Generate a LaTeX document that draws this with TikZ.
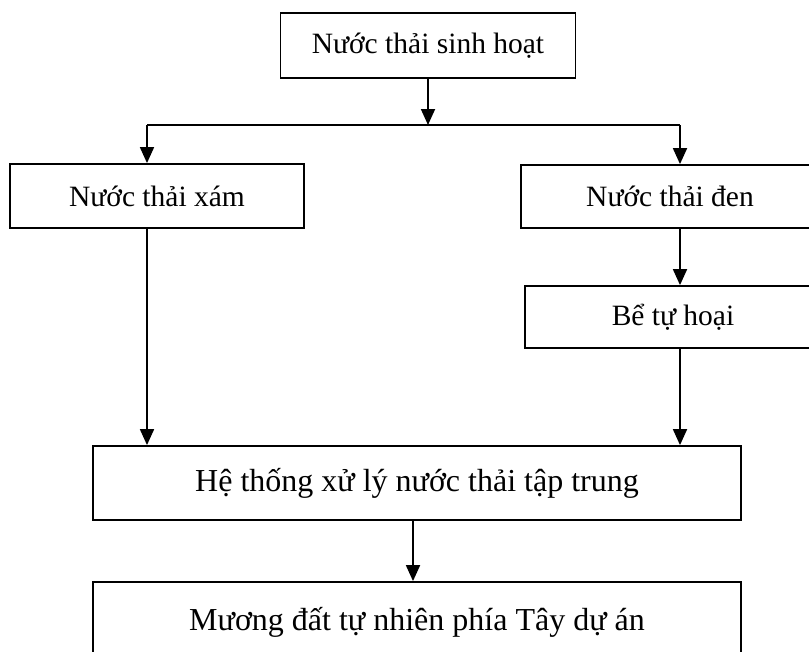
\documentclass[tikz,border=0pt]{standalone}
\usepackage{fontspec}
\setmainfont{Liberation Serif}
\usetikzlibrary{arrows.meta}
\begin{document}
\begin{tikzpicture}[x=1pt,y=-1pt,
  box/.style={draw, line width=1.8pt, inner sep=0pt, font=\fontsize{29.5}{34}\selectfont},
  bigbox/.style={box, font=\fontsize{32}{38}\selectfont},
  arr/.style={line width=1.8pt, -{Triangle[length=16pt,width=14pt]}},
  ln/.style={line width=1.8pt}]
\useasboundingbox (0,0) rectangle (809,651);
\clip (0,0) rectangle (809,651);
\node[box, minimum width=295pt, minimum height=65pt] (src) at (428,45.5) {Nước thải sinh hoạt};
\node[box, minimum width=294pt, minimum height=64pt] (grey) at (157,196) {Nước thải xám};
\node[box, minimum width=298pt, minimum height=63pt] (black) at (670,196.5) {Nước thải đen};
\node[box, minimum width=296pt, minimum height=62pt] (tank) at (673,317) {Bể tự hoại};
\node[bigbox, minimum width=648pt, minimum height=74pt] (treat) at (417,483) {Hệ thống xử lý nước thải tập trung};
\node[bigbox, minimum width=648pt, minimum height=80pt] (ditch) at (417,622) {Mương đất tự nhiên phía Tây dự án};
\coordinate (jL) at (147,125);
\coordinate (jR) at (680,125);
\coordinate (jM) at (428,125);
\draw[arr] (src.south) -- (jM);
\draw[ln] (jL) -- (jR);
\draw[arr] (jL) -- (jL |- grey.north);
\draw[arr] (jR) -- (jR |- black.north);
\draw[arr] (jR |- black.south) -- (jR |- tank.north);
\draw[arr] (jR |- tank.south) -- (jR |- treat.north);
\draw[arr] (jL |- grey.south) -- (jL |- treat.north);
\draw[arr] ([xshift=-4pt]treat.south) -- ([xshift=-4pt]ditch.north);
\end{tikzpicture}
\end{document}
